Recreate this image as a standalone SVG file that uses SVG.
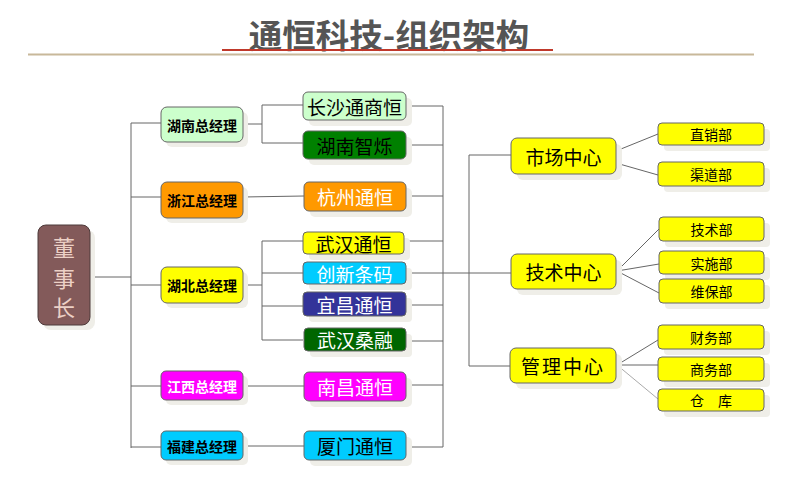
<svg xmlns="http://www.w3.org/2000/svg" width="808" height="495" viewBox="0 0 808 495">
<style>
.t{font-family:"Noto Sans CJK SC","Noto Sans",sans-serif;text-anchor:middle;dominant-baseline:central}
.n{stroke:#666;stroke-width:1}
.sh{fill:#efeee8}
.c{stroke:#666;stroke-width:1;fill:none}
.l1{font-size:14px;font-weight:bold}
.l2{font-size:19px}
.l3{font-size:19px}
.l4{font-size:14px}
</style>
<rect width="808" height="495" fill="#fff"/>
<g id="title">
<text x="389" y="33" class="t" style="font-size:33.5px;font-weight:bold" fill="#555">通恒科技-组织架构</text>
<line x1="28" y1="54.5" x2="754" y2="54.5" stroke="#c8b89a" stroke-width="2"/>
<line x1="222" y1="50" x2="553" y2="50" stroke="#c0392b" stroke-width="2"/>
</g>
<g id="connectors">
<path class="c" d="M90 277H131M131 123V448M131 123H161M131 197H161M131 285H161M131 386H161M131 447H161"/>
<path class="c" d="M243 124H262M262 105V143M262 105H303M262 143H303"/>
<path class="c" d="M243 197L304 196"/>
<path class="c" d="M243 285H262M262 241V340M262 241H303M262 273H303M262 306H303M262 340H303"/>
<path class="c" d="M243 386H304M243 446H304"/>
<path class="c" d="M406 106H443M406 145H443M406 196H443M404 241H443M406 305H443M406 341H443M406 385H443M406 447H443M443 106V447"/>
<path class="c" d="M406 273H511M469 155V366M469 155H511M469 366H510"/>
<path class="c" d="M616 151L658 134M616 163L658 175"/>
<path class="c" d="M617 271L659 229M617 271L659 264M617 271L659 293"/>
<path class="c" d="M617 365L658 340M617 365H658"/>
<path d="M617 365L658 399" stroke="#aaa" stroke-width="1"/>
</g>
<g id="chairman">
<rect x="43" y="230" width="52" height="100" rx="8" class="sh"/>
<rect x="38" y="225" width="52" height="100" rx="8" fill="#835a5a" stroke="#4d3a3a" stroke-width="1"/>
<text x="64" y="246" class="t" style="font-size:22px" fill="#ecd0c6">董</text>
<text x="64" y="277" class="t" style="font-size:22px" fill="#ecd0c6">事</text>
<text x="64" y="306" class="t" style="font-size:22px" fill="#ecd0c6">长</text>
</g>
<g id="hunan-gm">
<rect x="166" y="112" width="82" height="35" rx="6" class="sh"/>
<rect x="161" y="107" width="82" height="35" rx="6" class="n" fill="#ccffcc"/>
<text x="202" y="124.5" class="t l1" fill="#000">湖南总经理</text>
</g>
<g id="zhejiang-gm">
<rect x="166" y="187" width="82" height="36" rx="6" class="sh"/>
<rect x="161" y="182" width="82" height="36" rx="6" class="n" fill="#ff9900"/>
<text x="202" y="200" class="t l1" fill="#000">浙江总经理</text>
</g>
<g id="hubei-gm">
<rect x="166" y="272" width="82" height="36" rx="6" class="sh"/>
<rect x="161" y="267" width="82" height="36" rx="6" class="n" fill="#ffff00"/>
<text x="202" y="285" class="t l1" fill="#000">湖北总经理</text>
</g>
<g id="jiangxi-gm">
<rect x="166" y="376" width="82" height="29" rx="5" class="sh"/>
<rect x="161" y="371" width="82" height="29" rx="5" class="n" fill="#ff00ff"/>
<text x="202" y="385.5" class="t l1" fill="#fff">江西总经理</text>
</g>
<g id="fujian-gm">
<rect x="166" y="436" width="82" height="29" rx="5" class="sh"/>
<rect x="161" y="431" width="82" height="29" rx="5" class="n" fill="#00ccff"/>
<text x="202" y="445.5" class="t l1" fill="#000">福建总经理</text>
</g>
<g id="changsha">
<rect x="309" y="98" width="103" height="28" rx="5" class="sh"/>
<rect x="303" y="92" width="103" height="28" rx="5" class="n" fill="#ccffcc"/>
<text x="354.5" y="106" class="t l2" fill="#000">长沙通商恒</text>
</g>
<g id="hunan-zhishuo">
<rect x="309" y="137" width="103" height="28" rx="5" class="sh"/>
<rect x="303" y="131" width="103" height="28" rx="5" class="n" fill="#008000"/>
<text x="354.5" y="145" class="t l2" fill="#000">湖南智烁</text>
</g>
<g id="hangzhou">
<rect x="310" y="188" width="102" height="29" rx="5" class="sh"/>
<rect x="304" y="182" width="102" height="29" rx="5" class="n" fill="#ff9900"/>
<text x="355" y="196.5" class="t l2" fill="#fff">杭州通恒</text>
</g>
<g id="wuhan-tongheng">
<rect x="309" y="238" width="101" height="22" rx="4" class="sh"/>
<rect x="303" y="232" width="101" height="22" rx="4" class="n" fill="#ffff00"/>
<text x="353.5" y="243" class="t l2" fill="#000">武汉通恒</text>
</g>
<g id="chuangxin">
<rect x="309" y="268" width="103" height="22" rx="4" class="sh"/>
<rect x="303" y="262" width="103" height="22" rx="4" class="n" fill="#00ccff"/>
<text x="354.5" y="273" class="t l2" fill="#fff">创新条码</text>
</g>
<g id="yichang">
<rect x="309" y="298" width="103" height="24" rx="4" class="sh"/>
<rect x="303" y="292" width="103" height="24" rx="4" class="n" fill="#333399"/>
<text x="354.5" y="304" class="t l2" fill="#fff">宜昌通恒</text>
</g>
<g id="wuhan-sangrong">
<rect x="310" y="334" width="102" height="23" rx="4" class="sh"/>
<rect x="304" y="328" width="102" height="23" rx="4" class="n" fill="#006600"/>
<text x="355" y="339.5" class="t l2" fill="#fff">武汉桑融</text>
</g>
<g id="nanchang">
<rect x="310" y="378" width="102" height="29" rx="5" class="sh"/>
<rect x="304" y="372" width="102" height="29" rx="5" class="n" fill="#ff00ff"/>
<text x="355" y="386.5" class="t l2" fill="#fff">南昌通恒</text>
</g>
<g id="xiamen">
<rect x="310" y="437" width="102" height="29" rx="5" class="sh"/>
<rect x="304" y="431" width="102" height="29" rx="5" class="n" fill="#00ccff"/>
<text x="355" y="445.5" class="t l2" fill="#000">厦门通恒</text>
</g>
<g id="market-center">
<rect x="517" y="144" width="105" height="36" rx="6" class="sh"/>
<rect x="511" y="138" width="105" height="36" rx="6" class="n" fill="#ffff00"/>
<text x="563.5" y="156" class="t l3" fill="#000">市场中心</text>
</g>
<g id="tech-center">
<rect x="517" y="260" width="105" height="35" rx="6" class="sh"/>
<rect x="511" y="254" width="105" height="35" rx="6" class="n" fill="#ffff00"/>
<text x="563.5" y="271.5" class="t l3" fill="#000">技术中心</text>
</g>
<g id="mgmt-center">
<rect x="516" y="354" width="106" height="35" rx="6" class="sh"/>
<rect x="510" y="348" width="106" height="35" rx="6" class="n" fill="#ffff00"/>
<text x="563" y="365.5" class="t l3" fill="#000" letter-spacing="2">管理中心</text>
</g>
<g id="direct-sales">
<rect x="664" y="129" width="106" height="22" rx="4" class="sh"/>
<rect x="658" y="123" width="106" height="22" rx="4" class="n" fill="#ffff00"/>
<text x="711" y="134" class="t l4" fill="#000">直销部</text>
</g>
<g id="channel">
<rect x="664" y="168" width="106" height="24" rx="4" class="sh"/>
<rect x="658" y="162" width="106" height="24" rx="4" class="n" fill="#ffff00"/>
<text x="711" y="174" class="t l4" fill="#000">渠道部</text>
</g>
<g id="tech-dept">
<rect x="665" y="223" width="105" height="24" rx="4" class="sh"/>
<rect x="659" y="217" width="105" height="24" rx="4" class="n" fill="#ffff00"/>
<text x="711.5" y="229" class="t l4" fill="#000">技术部</text>
</g>
<g id="impl-dept">
<rect x="665" y="257" width="105" height="23" rx="4" class="sh"/>
<rect x="659" y="251" width="105" height="23" rx="4" class="n" fill="#ffff00"/>
<text x="711.5" y="262.5" class="t l4" fill="#000">实施部</text>
</g>
<g id="maint-dept">
<rect x="665" y="285" width="105" height="24" rx="4" class="sh"/>
<rect x="659" y="279" width="105" height="24" rx="4" class="n" fill="#ffff00"/>
<text x="711.5" y="291" class="t l4" fill="#000">维保部</text>
</g>
<g id="finance">
<rect x="664" y="331" width="106" height="24" rx="4" class="sh"/>
<rect x="658" y="325" width="106" height="24" rx="4" class="n" fill="#ffff00"/>
<text x="711" y="337" class="t l4" fill="#000">财务部</text>
</g>
<g id="business">
<rect x="664" y="363" width="106" height="24" rx="4" class="sh"/>
<rect x="658" y="357" width="106" height="24" rx="4" class="n" fill="#ffff00"/>
<text x="711" y="369" class="t l4" fill="#000">商务部</text>
</g>
<g id="warehouse">
<rect x="664" y="395" width="106" height="22" rx="4" class="sh"/>
<rect x="658" y="389" width="106" height="22" rx="4" class="n" fill="#ffff00"/>
<text x="711" y="400" class="t l4" fill="#000">仓　库</text>
</g>
</svg>
